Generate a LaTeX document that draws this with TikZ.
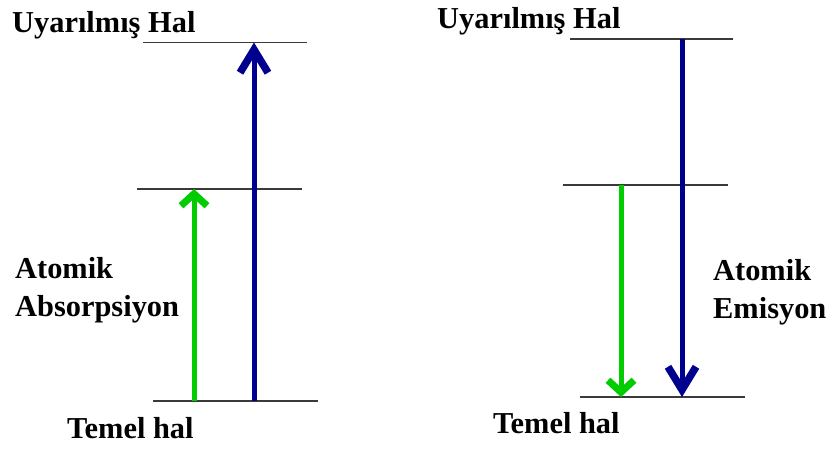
\documentclass[tikz,border=0pt]{standalone}
\usepackage{fontspec}
\setmainfont{Liberation Serif}
\usetikzlibrary{arrows.meta,positioning}
\definecolor{lvgray}{HTML}{3A3A3A}
\definecolor{lvblue}{HTML}{00008F}
\definecolor{lvgreen}{HTML}{00CC00}
\tikzstyle{lvline}=[draw=lvgray,line width=1.8pt]
\tikzstyle{lvtext}=[font=\fontsize{30.4}{36}\selectfont\bfseries,anchor=base west,inner sep=0pt,text=black]
\tikzstyle{greenup}=[draw=lvgreen,line width=5pt,-{Straight Barb[length=12pt,width=26pt,line width=7pt]}]
\tikzstyle{blueup}=[draw=lvblue,line width=5pt,-{Straight Barb[length=23pt,width=28pt,line width=7.5pt]}]

\begin{document}
\begin{tikzpicture}[x=1pt,y=-1pt]
    \useasboundingbox (0,0) rectangle (832,448);
    % energy levels
    \foreach \n/\xa/\xb/\y in {aT/143/307/42.5,aM/137/302/189,aG/153/318/401,eT/570/733/39,eM/563/728/185,eG/580/745/397} {
      \coordinate (\n l) at (\xa,\y);
      \coordinate (\n r) at (\xb,\y);
      \draw[lvline] (\n l) -- (\n r);
    }
    % transitions
    \coordinate (absG0) at (194,401);
    \coordinate (absG1) at (194,189);
    \coordinate (absB0) at (254,401);
    \coordinate (absB1) at (254,42.5);
    \coordinate (emiG0) at (621,185);
    \coordinate (emiG1) at (621,397);
    \coordinate (emiB0) at (682,39);
    \coordinate (emiB1) at (682,397);
    \draw[greenup] (absG0) -- (absG1);
    \draw[blueup] (absB0) -- (absB1);
    \draw[greenup] (emiG0) -- (emiG1);
    \draw[blueup] (emiB0) -- (emiB1);
    % labels
    \node[lvtext] (absTop) at (12,32) {Uyarılmış Hal};
    \node[lvtext] (absName1) at (15,278) {Atomik};
    \node[lvtext] (absName2) at (15,316) {Absorpsiyon};
    \node[lvtext] (absBot) at (67,438) {Temel hal};
    \node[lvtext] (emiTop) at (437,28) {Uyarılmış Hal};
    \node[lvtext] (emiName1) at (713,280) {Atomik};
    \node[lvtext] (emiName2) at (713,318) {Emisyon};
    \node[lvtext] (emiBot) at (493,433) {Temel hal};
  \end{tikzpicture}
\end{document}
